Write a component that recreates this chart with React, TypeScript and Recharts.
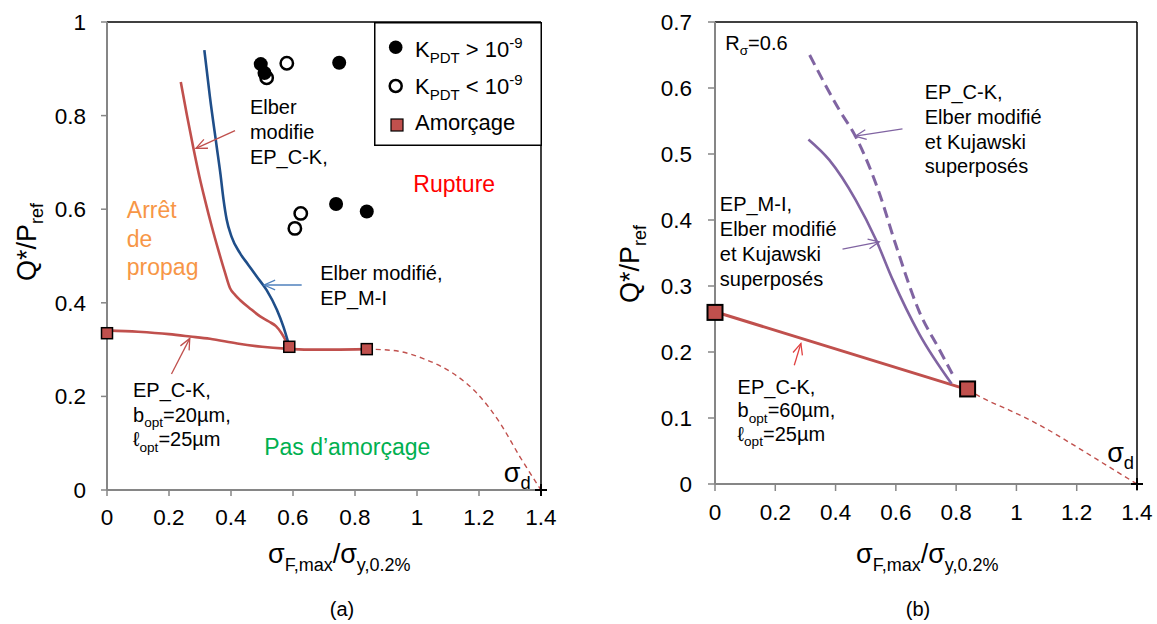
import React from 'react';
import { ComposedChart, Line, Scatter, XAxis, YAxis, ReferenceLine, ReferenceDot, Legend, Label } from 'recharts';

const FONT = '"Liberation Sans", Arial, Helvetica, sans-serif';
const RED = '#C0504D';
const BLUE = '#1F4E89';
const PURPLE = '#8064A2';

// ---------- shared ticks ----------
const xTicks = [0, 0.2, 0.4, 0.6, 0.8, 1, 1.2, 1.4];
const yTicksA = [0, 0.2, 0.4, 0.6, 0.8, 1];
const yTicksB = [0, 0.1, 0.2, 0.3, 0.4, 0.5, 0.6, 0.7];

// ---------- chart (a) ----------
const kpdtHighA = [
  { x: 0.496, y: 0.91 },
  { x: 0.508, y: 0.891 },
  { x: 0.749, y: 0.913 },
  { x: 0.739, y: 0.611 },
  { x: 0.838, y: 0.595 },
];
const kpdtLowA = [
  { x: 0.515, y: 0.881 },
  { x: 0.58, y: 0.912 },
  { x: 0.625, y: 0.591 },
  { x: 0.606, y: 0.559 },
];
const amorcageA = [
  { x: 0, y: 0.335 },
  { x: 0.588, y: 0.306 },
  { x: 0.838, y: 0.301 },
];
const epCK20 = [
  { x: 0, y: 0.341 },
  { x: 0.1, y: 0.338 },
  { x: 0.2, y: 0.333 },
  { x: 0.268, y: 0.328 },
  { x: 0.332, y: 0.323 },
  { x: 0.42, y: 0.313 },
  { x: 0.5, y: 0.306 },
  { x: 0.575, y: 0.302 },
  { x: 0.65, y: 0.3 },
  { x: 0.73, y: 0.3 },
  { x: 0.838, y: 0.301 },
];
const elberCK = [
  { x: 0.238, y: 0.872 },
  { x: 0.258, y: 0.8 },
  { x: 0.278, y: 0.733 },
  { x: 0.298, y: 0.67 },
  { x: 0.316, y: 0.62 },
  { x: 0.338, y: 0.563 },
  { x: 0.359, y: 0.513 },
  { x: 0.38, y: 0.466 },
  { x: 0.397, y: 0.431 },
  { x: 0.413, y: 0.417 },
  { x: 0.429, y: 0.406 },
  { x: 0.461, y: 0.388 },
  { x: 0.494, y: 0.371 },
  { x: 0.522, y: 0.36 },
  { x: 0.545, y: 0.35 },
  { x: 0.562, y: 0.336 },
  { x: 0.576, y: 0.32 },
  { x: 0.586, y: 0.306 },
];
const elberMI = [
  { x: 0.314, y: 0.94 },
  { x: 0.332, y: 0.84 },
  { x: 0.354, y: 0.733 },
  { x: 0.366, y: 0.675 },
  { x: 0.376, y: 0.62 },
  { x: 0.386, y: 0.578 },
  { x: 0.402, y: 0.541 },
  { x: 0.429, y: 0.506 },
  { x: 0.456, y: 0.481 },
  { x: 0.483, y: 0.456 },
  { x: 0.515, y: 0.427 },
  { x: 0.548, y: 0.385 },
  { x: 0.569, y: 0.349 },
  { x: 0.586, y: 0.312 },
];
const extrapA = [
  { x: 0.838, y: 0.301 },
  { x: 0.924, y: 0.298 },
  { x: 1.031, y: 0.278 },
  { x: 1.117, y: 0.249 },
  { x: 1.193, y: 0.207 },
  { x: 1.268, y: 0.143 },
  { x: 1.332, y: 0.071 },
  { x: 1.4, y: 0 },
];
const sigmaD = [{ x: 1.4, y: 0 }];

// ---------- chart (b) ----------
const amorcageB = [
  { x: 0, y: 0.26 },
  { x: 0.838, y: 0.144 },
];
const epCK60 = [
  { x: 0, y: 0.261 },
  { x: 0.838, y: 0.143 },
];
const extrapB = [
  { x: 0.838, y: 0.143 },
  { x: 0.889, y: 0.13 },
  { x: 0.976, y: 0.112 },
  { x: 1.086, y: 0.087 },
  { x: 1.197, y: 0.057 },
  { x: 1.307, y: 0.026 },
  { x: 1.4, y: 0 },
];
const ckSuperposes = [
  { x: 0.314, y: 0.65 },
  { x: 0.412, y: 0.567 },
  { x: 0.467, y: 0.526 },
  { x: 0.545, y: 0.441 },
  { x: 0.6, y: 0.362 },
  { x: 0.677, y: 0.262 },
  { x: 0.744, y: 0.204 },
  { x: 0.787, y: 0.167 },
];
const miSuperposes = [
  { x: 0.31, y: 0.522 },
  { x: 0.379, y: 0.491 },
  { x: 0.467, y: 0.43 },
  { x: 0.534, y: 0.37 },
  { x: 0.589, y: 0.31 },
  { x: 0.677, y: 0.228 },
  { x: 0.785, y: 0.152 },
];

// ---------- annotations ----------
type Seg = string | { t: string; s: 'sub' | 'sup' };

const RichText = ({ x, y, lines, size, lh, fill, subSize }: any) => (
  <text x={x} y={y} fontSize={size} fill={fill} fontFamily={FONT}>
    {lines.map((line: Seg[], i: number) => {
      const base = y + i * lh;
      return line.map((seg: Seg, j: number) => {
        const px = j === 0 ? x : undefined;
        if (typeof seg === 'string') {
          return (
            <tspan key={i + '-' + j} x={px} y={base} fontSize={size}>
              {seg}
            </tspan>
          );
        }
        return (
          <tspan
            key={i + '-' + j}
            x={px}
            y={seg.s === 'sub' ? base + size * 0.28 : base - size * 0.38}
            fontSize={subSize || size * 0.68}
          >
            {seg.t}
          </tspan>
        );
      });
    })}
  </text>
);

const textAt = (lines: Seg[][], size: number, lh: number, fill: string) => (p: any) =>
  <RichText x={p.cx} y={p.cy} lines={lines} size={size} lh={lh} fill={fill} />;

const arrowShape = (color: string) => (p: any) => {
  const { x1, y1, x2, y2 } = p;
  const ang = Math.atan2(y2 - y1, x2 - x1);
  const L = 12;
  const a = 0.42;
  const pts = `${x2 - L * Math.cos(ang - a)},${y2 - L * Math.sin(ang - a)} ${x2},${y2} ${x2 - L * Math.cos(ang + a)},${y2 - L * Math.sin(ang + a)}`;
  return (
    <g stroke={color} strokeWidth={1.3} fill="none">
      <line x1={x1} y1={y1} x2={x2} y2={y2} />
      <polyline points={pts} />
    </g>
  );
};

const FilledDot = (p: any) => <circle cx={p.cx} cy={p.cy} r={7} fill="#000" />;
const OpenDot = (p: any) => <circle cx={p.cx} cy={p.cy} r={6.2} fill="#fff" stroke="#000" strokeWidth={2.5} />;
const squareShape = (s: number, sw: number) => (p: any) =>
  <rect x={p.cx - s / 2} y={p.cy - s / 2} width={s} height={s} fill={RED} stroke="#000" strokeWidth={sw} />;
const PlusShape = (p: any) => (
  <g stroke="#000" strokeWidth={2}>
    <line x1={p.cx - 6} y1={p.cy} x2={p.cx + 6} y2={p.cy} />
    <line x1={p.cx} y1={p.cy - 6} x2={p.cx} y2={p.cy + 6} />
  </g>
);

const tickStyle = { fontSize: 22.5, fill: '#000', fontFamily: FONT };
const axisLineStyle = { stroke: '#868686', strokeWidth: 2 };
const tickLineStyle = { stroke: '#868686', strokeWidth: 1.5 };

const XTitle = ({ x, y, panel, px }: any) => (
  <g fontFamily={FONT} fill="#000">
    <text x={x} y={y} fontSize={27}>
      σ<tspan dy={8} fontSize={18}>F,max</tspan>
      <tspan dy={-8} fontSize={27}>/σ</tspan>
      <tspan dy={8} fontSize={18}>y,0.2%</tspan>
    </text>
    <text x={px} y={616} fontSize={20} textAnchor="middle">{panel}</text>
  </g>
);

const YTitle = ({ x, y }: any) => (
  <text transform={`translate(${x}, ${y}) rotate(-90)`} textAnchor="middle" fontSize={27} fontFamily={FONT} fill="#000">
    Q*/P<tspan dy={7} fontSize={18}>ref</tspan>
  </text>
);

const LegendBox = () => (
  <svg width={168} height={124} style={{ display: 'block' }}>
    <rect x={0.75} y={0.75} width={166.5} height={122.5} fill="#fff" stroke="#000" strokeWidth={1.5} />
    <circle cx={21.7} cy={25.3} r={6.8} fill="#000" />
    <circle cx={21.7} cy={64} r={6} fill="#fff" stroke="#000" strokeWidth={2.5} />
    <rect x={17} y={97} width={12} height={12} fill={RED} stroke="#000" strokeWidth={1.2} />
    <RichText x={41} y={34.7} size={22} lh={0} fill="#000" subSize={15}
      lines={[['K', { t: 'PDT', s: 'sub' }, ' > 10', { t: '-9', s: 'sup' }]]} />
    <RichText x={41} y={71.5} size={22} lh={0} fill="#000" subSize={15}
      lines={[['K', { t: 'PDT', s: 'sub' }, ' < 10', { t: '-9', s: 'sup' }]]} />
    <RichText x={41} y={108} size={22} lh={0} fill="#000" lines={[['Amorçage']]} />
  </svg>
);

const lineCommon = { dot: false, activeDot: false, isAnimationActive: false, legendType: 'none' as const };

function ChartA() {
  return (
    <ComposedChart width={560} height={624} margin={{ top: 22, right: 19, bottom: 94, left: 0 }}>
      <XAxis type="number" dataKey="x" domain={[0, 1.4]} ticks={xTicks} interval={0}
        tick={tickStyle} tickSize={6} tickMargin={13} axisLine={axisLineStyle} tickLine={tickLineStyle} height={40}
        label={<Label content={() => <XTitle x={268} y={563} panel="(a)" px={342} />} />} />
      <YAxis type="number" dataKey="y" domain={[0, 1]} ticks={yTicksA} interval={0} width={107}
        tick={tickStyle} tickSize={6} tickMargin={15} axisLine={axisLineStyle} tickLine={tickLineStyle}
        label={<Label content={() => <YTitle x={36} y={242} />} />} />
      <ReferenceLine y={1} stroke="#000" strokeWidth={1.5} />
      <ReferenceLine x={1.4} stroke="#000" strokeWidth={1.5} />

      <Line {...lineCommon} data={extrapA} dataKey="y" type="monotone" stroke={RED} strokeWidth={1.4} strokeDasharray="5 4" />
      <Line {...lineCommon} data={epCK20} dataKey="y" type="monotone" stroke={RED} strokeWidth={2.6} />
      <Line {...lineCommon} data={elberCK} dataKey="y" type="monotone" stroke={RED} strokeWidth={2.6} />
      <Line {...lineCommon} data={elberMI} dataKey="y" type="monotone" stroke={BLUE} strokeWidth={2.6} />

      <Scatter data={kpdtLowA} dataKey="y" shape={OpenDot} isAnimationActive={false} legendType="none" />
      <Scatter data={kpdtHighA} dataKey="y" shape={FilledDot} isAnimationActive={false} legendType="none" />
      <Scatter data={amorcageA} dataKey="y" shape={squareShape(11, 1.5)} isAnimationActive={false} legendType="none" />
      <Scatter data={sigmaD} dataKey="y" shape={PlusShape} isAnimationActive={false} legendType="none" />

      <ReferenceLine segment={[{ x: 0.413, y: 0.768 }, { x: 0.287, y: 0.73 }]} shape={arrowShape(RED)} />
      <ReferenceLine segment={[{ x: 0.628, y: 0.438 }, { x: 0.507, y: 0.438 }]} shape={arrowShape('#4F81BD')} />
      <ReferenceLine segment={[{ x: 0.208, y: 0.248 }, { x: 0.267, y: 0.324 }]} shape={arrowShape(RED)} />

      <ReferenceDot x={0.461} y={0.803} r={1} shape={textAt([['Elber'], ['modifie'], ['EP_C-K,']], 20, 25, '#000')} />
      <ReferenceDot x={0.688} y={0.449} r={1} shape={textAt([['Elber modifié,'], ['EP_M-I']], 20, 25, '#000')} />
      <ReferenceDot x={0.988} y={0.637} r={1} shape={textAt([['Rupture']], 23, 0, '#FF0000')} />
      <ReferenceDot x={0.064} y={0.581} r={1} shape={textAt([['Arrêt'], ['de'], ['propag']], 23, 28.5, '#F79646')} />
      <ReferenceDot x={0.507} y={0.075} r={1} shape={textAt([['Pas d’amorçage']], 23, 0, '#00B050')} />
      <ReferenceDot x={0.084} y={0.198} r={1} shape={textAt([
        ['EP_C-K,'],
        ['b', { t: 'opt', s: 'sub' }, '=20µm,'],
        ['ℓ', { t: 'opt', s: 'sub' }, '=25µm'],
      ], 20, 24.3, '#000')} />
      <ReferenceDot x={1.28} y={0.018} r={1} shape={textAt([['σ', { t: 'd', s: 'sub' }]], 27, 0, '#000')} />

      <Legend layout="vertical" align="center" verticalAlign="middle"
        wrapperStyle={{ position: 'absolute', left: 374, top: 22, width: 168, height: 124, margin: 0, padding: 0 }}
        content={() => <LegendBox />} />
    </ComposedChart>
  );
}

function ChartB() {
  return (
    <ComposedChart width={577} height={624} margin={{ top: 22, right: 20, bottom: 100, left: 0 }}>
      <XAxis type="number" dataKey="x" domain={[0, 1.4]} ticks={xTicks} interval={0}
        tick={tickStyle} tickSize={7} tickMargin={13} axisLine={axisLineStyle} tickLine={tickLineStyle} height={40}
        label={<Label content={() => <XTitle x={276} y={563} panel="(b)" px={338} />} />} />
      <YAxis type="number" dataKey="y" domain={[0, 0.7]} ticks={yTicksB} interval={0} width={135}
        tick={tickStyle} tickSize={7} tickMargin={16} axisLine={axisLineStyle} tickLine={tickLineStyle}
        label={<Label content={() => <YTitle x={59} y={264} />} />} />
      <ReferenceLine y={0.7} stroke="#000" strokeWidth={1.5} />
      <ReferenceLine x={1.4} stroke="#000" strokeWidth={1.5} />

      <Line {...lineCommon} data={extrapB} dataKey="y" type="monotone" stroke={RED} strokeWidth={1.4} strokeDasharray="5 4" />
      <Line {...lineCommon} data={epCK60} dataKey="y" type="linear" stroke={RED} strokeWidth={3} />
      <Line {...lineCommon} data={ckSuperposes} dataKey="y" type="monotone" stroke={PURPLE} strokeWidth={3} strokeDasharray="11 6" />
      <Line {...lineCommon} data={miSuperposes} dataKey="y" type="monotone" stroke={PURPLE} strokeWidth={2.6} />

      <Scatter data={amorcageB} dataKey="y" shape={squareShape(15, 2)} isAnimationActive={false} legendType="none" />
      <Scatter data={sigmaD} dataKey="y" shape={PlusShape} isAnimationActive={false} legendType="none" />

      <ReferenceLine segment={[{ x: 0.622, y: 0.538 }, { x: 0.465, y: 0.527 }]} shape={arrowShape(PURPLE)} />
      <ReferenceLine segment={[{ x: 0.423, y: 0.356 }, { x: 0.545, y: 0.367 }]} shape={arrowShape(PURPLE)} />
      <ReferenceLine segment={[{ x: 0.263, y: 0.18 }, { x: 0.285, y: 0.213 }]} shape={arrowShape('#E04040')} />

      <ReferenceDot x={0.034} y={0.658} r={1} shape={textAt([['R', { t: 'σ', s: 'sub' }, '=0.6']], 20, 0, '#000')} />
      <ReferenceDot x={0.696} y={0.583} r={1} shape={textAt([['EP_C-K,'], ['Elber modifié'], ['et Kujawski'], ['superposés']], 20, 24.7, '#000')} />
      <ReferenceDot x={0.016} y={0.413} r={1} shape={textAt([['EP_M-I,'], ['Elber modifié'], ['et Kujawski'], ['superposés']], 20, 24.7, '#000')} />
      <ReferenceDot x={0.075} y={0.137} r={1} shape={textAt([
        ['EP_C-K,'],
        ['b', { t: 'opt', s: 'sub' }, '=60µm,'],
        ['ℓ', { t: 'opt', s: 'sub' }, '=25µm'],
      ], 20, 23.5, '#000')} />
      <ReferenceDot x={1.301} y={0.034} r={1} shape={textAt([['σ', { t: 'd', s: 'sub' }]], 27, 0, '#000')} />
    </ComposedChart>
  );
}

export default function App() {
  return (
    <div style={{ position: 'absolute', left: 0, top: 0, width: 1157, height: 624, background: '#fff', fontFamily: FONT }}>
      <div style={{ position: 'absolute', left: 0, top: 0 }}>
        <ChartA />
      </div>
      <div style={{ position: 'absolute', left: 580, top: 0 }}>
        <ChartB />
      </div>
    </div>
  );
}
